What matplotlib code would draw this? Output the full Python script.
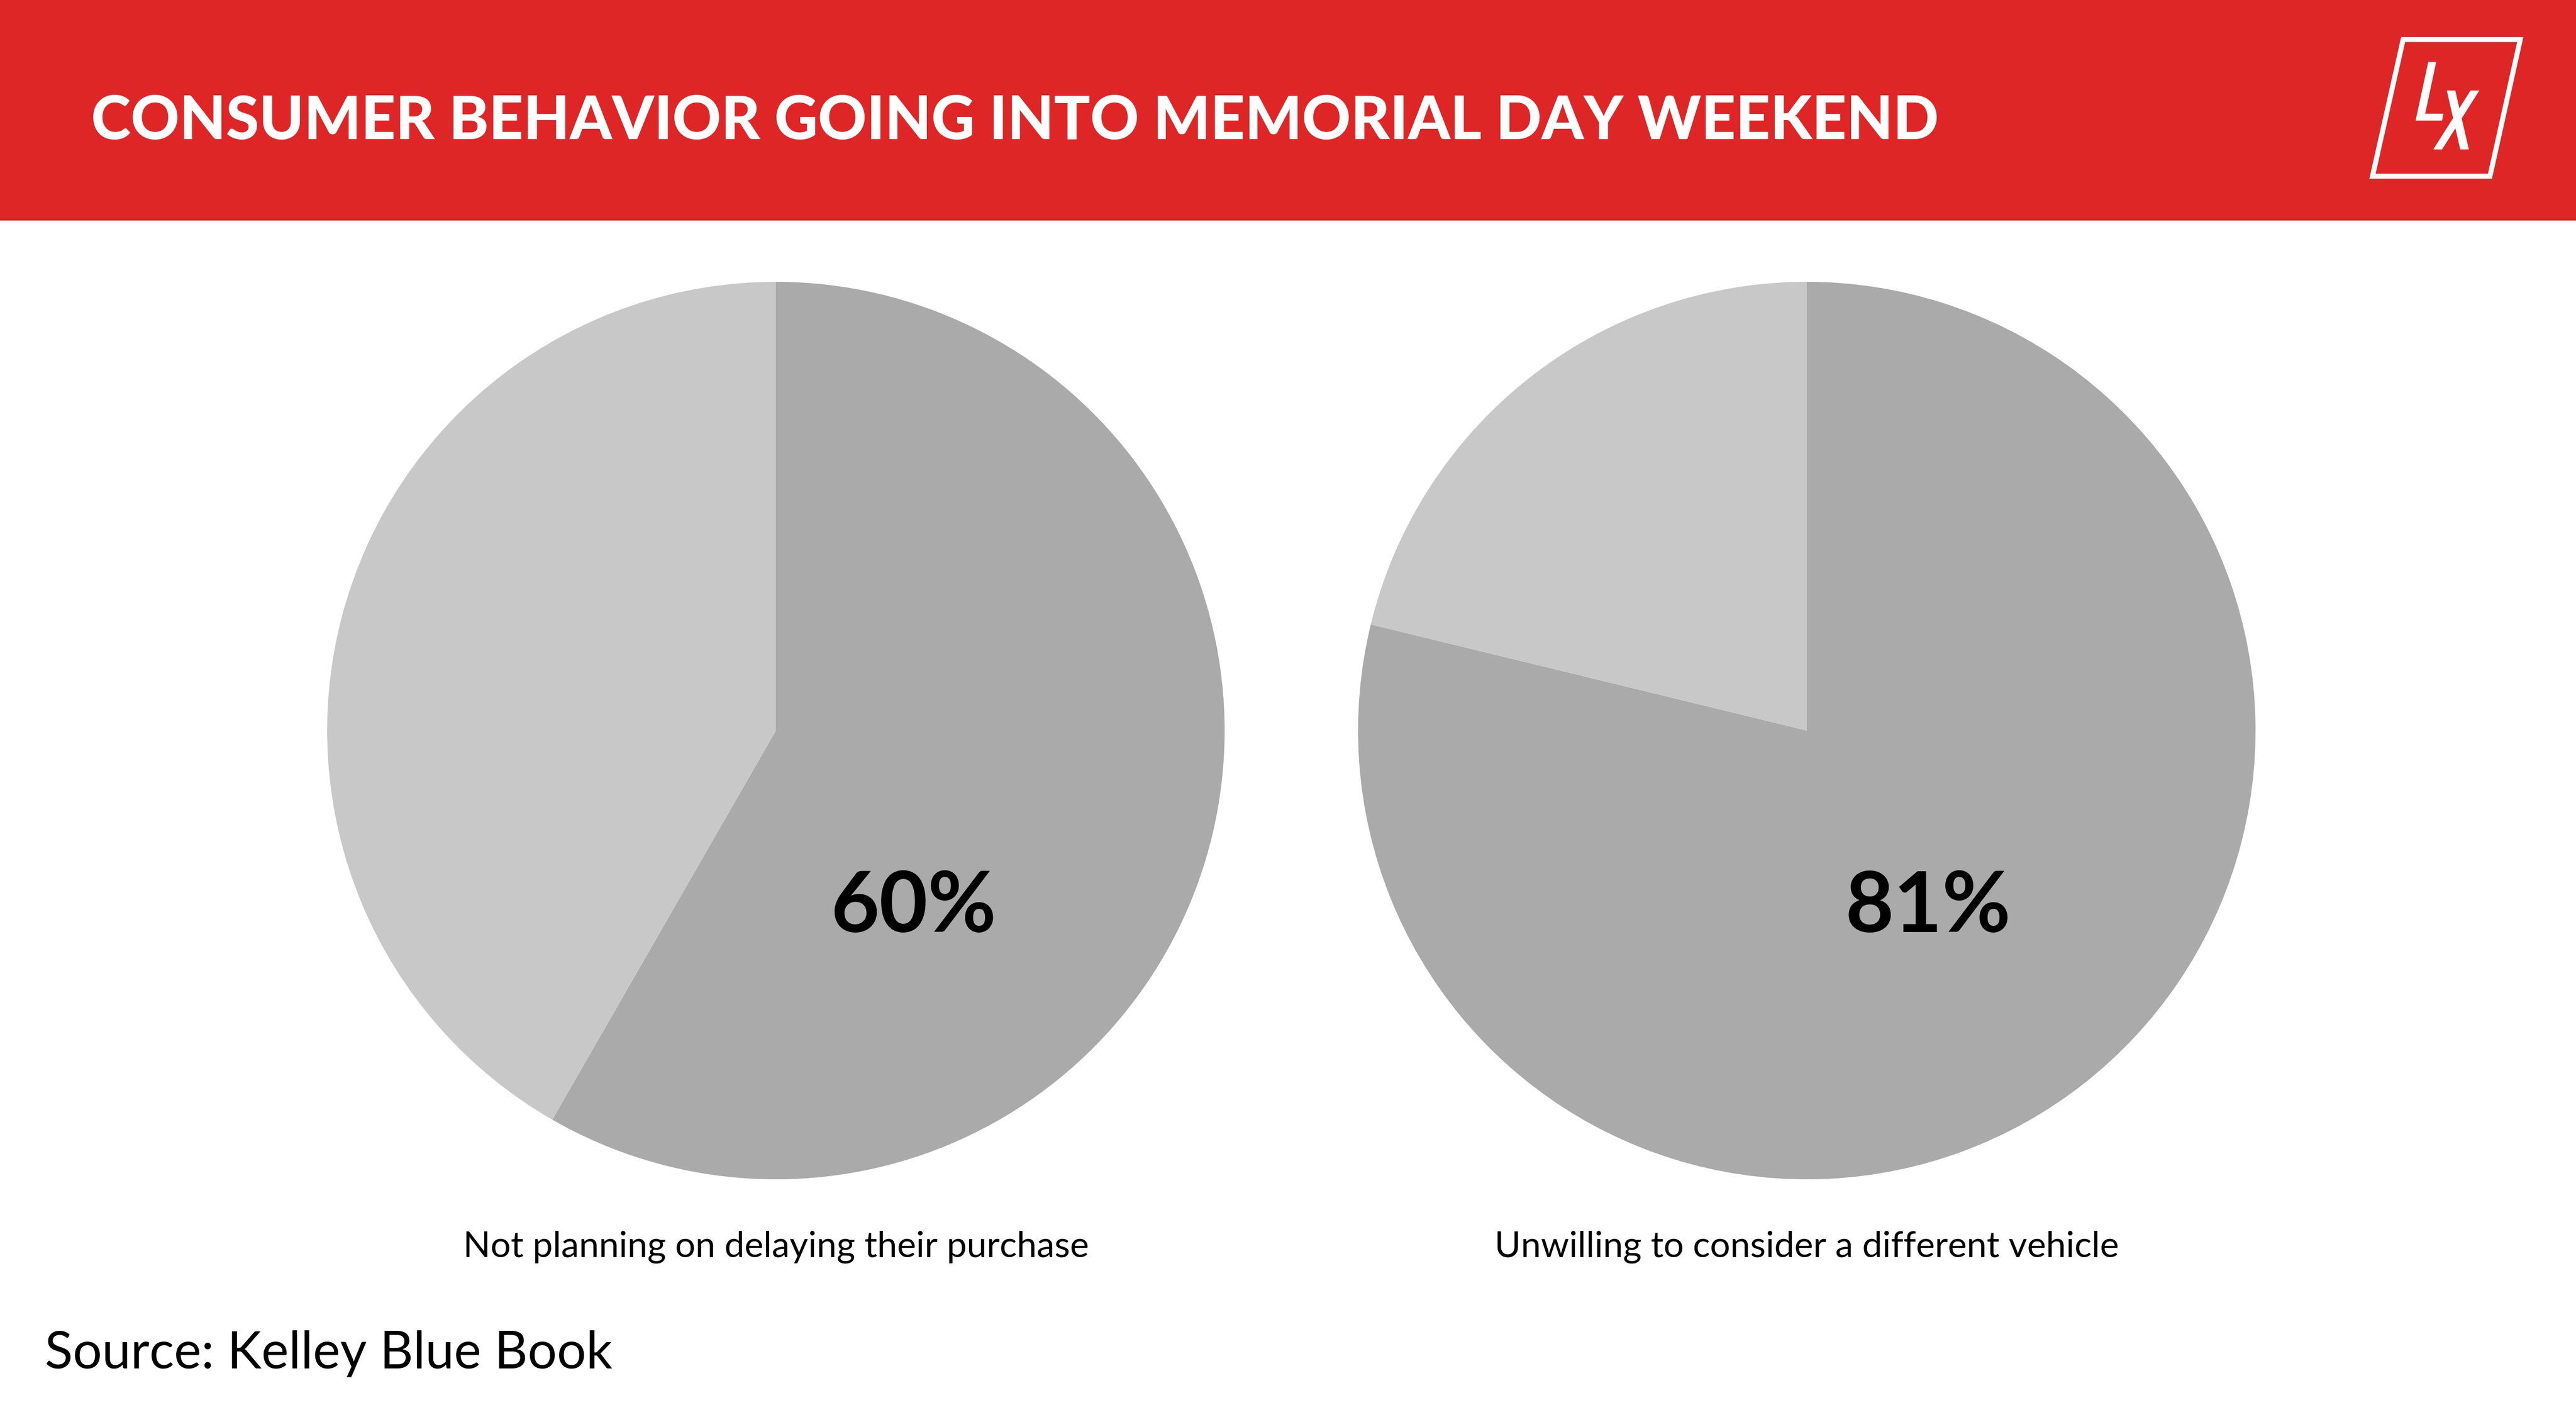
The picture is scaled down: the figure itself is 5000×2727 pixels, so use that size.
import matplotlib
matplotlib.use("Agg")
import matplotlib.pyplot as plt
from matplotlib.patches import Rectangle, Polygon

# dados
titulo = "CONSUMER BEHAVIOR GOING INTO MEMORIAL DAY WEEKEND"
fonte = "Source: Kelley Blue Book"
legendas = ["Not planning on delaying their purchase", "Unwilling to consider a different vehicle"]
rotulos = ["60%", "81%"]
# fatia escura / fatia clara como desenhadas no grafico
fatias_escuras = [58.3, 78.8]
fatias_claras = [41.7, 21.2]

cor_vermelha = "#DF2626"
cor_escura = "#AAAAAA"
cor_clara = "#C8C8C8"

W, H = 5000, 2727
fig = plt.figure(figsize=(W / 100, H / 100), dpi=100)
fig.patch.set_facecolor("white")

def fx(x):
    return x / W

def fy(y):
    return 1 - y / H

# faixa vermelha do topo
fig.add_artist(Rectangle((0, fy(428)), 1, 428 / H, transform=fig.transFigure,
                         facecolor=cor_vermelha, edgecolor="none", zorder=0))
fig.text(fx(177), fy(270), titulo, color="white", fontsize=84, fontweight="black",
         family="Lato", ha="left", va="baseline")

# logo LX
moldura = [(4664.5, 76.8), (4891.8, 76.8), (4833, 342), (4605, 342)]
letra_l = [(4713.3, 120), (4728.7, 120), (4707.3, 220.7), (4742.7, 220.7), (4740, 234), (4688.7, 234)]
traco_x1 = [(4749.3, 175.7), (4765.7, 175.7), (4792, 290), (4775.3, 290)]
traco_x2 = [(4795.3, 175.7), (4812.3, 175.7), (4740, 290), (4723, 290)]
fig.add_artist(Polygon([(fx(a), fy(b)) for a, b in moldura], closed=True, fill=False,
                       edgecolor="white", linewidth=7, joinstyle="miter", transform=fig.transFigure))
for forma in [letra_l, traco_x1, traco_x2]:
    fig.add_artist(Polygon([(fx(a), fy(b)) for a, b in forma], closed=True,
                           facecolor="white", edgecolor="none", transform=fig.transFigure))

# pizzas
centros = [1506, 3507]
raio = 871
cy = 1418
for i in range(2):
    ax = fig.add_axes([fx(centros[i] - raio), fy(cy + raio), 2 * raio / W, 2 * raio / H])
    ax.pie([fatias_escuras[i], fatias_claras[i]], colors=[cor_escura, cor_clara],
           startangle=90, counterclock=False, radius=1,
           wedgeprops={"linewidth": 0, "edgecolor": "none"})
    ax.set_xlim(-1, 1)
    ax.set_ylim(-1, 1)
    ax.set_aspect("equal")
    ax.axis("off")
    dx = 0.307 if i == 0 else 0.27
    ax.text(dx, -0.395, rotulos[i], fontsize=117, fontweight="bold", family="Lato",
            ha="center", va="center", color="black")
    fig.text(fx(centros[i]), fy(2439), legendas[i], fontsize=50, family="Lato",
             ha="center", va="baseline", color="black")

fig.text(fx(87), fy(2656), fonte, fontsize=72, family="Lato", ha="left",
         va="baseline", color="black")

plt.savefig("out.png", dpi=100, facecolor="white")
plt.close()
